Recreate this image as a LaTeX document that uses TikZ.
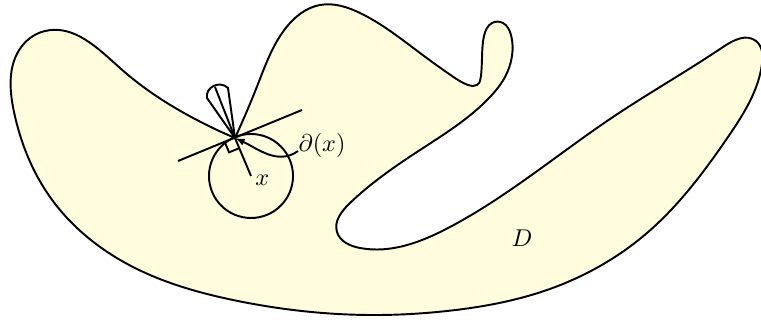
\documentclass[tikz,border=0pt]{standalone}
\definecolor{domainyellow}{RGB}{255,253,222}
\usepackage{amsmath,amssymb}
\usepackage{tikz}
\usetikzlibrary{arrows.meta,positioning,calc,hobby}

\begin{document}
\begin{tikzpicture}[
      x=0.0145cm, y=0.0145cm,
      bdry/.style={draw=black, thick, fill=domainyellow, use Hobby shortcut},
      geo/.style={thick, black},
      ptr/.style={-{Latex[length=4pt]}, thick}
    ]
    \useasboundingbox (0,0) rectangle (761,322);
    % DOMAIN: boundary, cusp at bp
    \coordinate (bp) at (235,184);
    \draw[bdry] (bp) .. (258,238) .. (285,293) .. (320,317) .. (360,309)
      .. (420,269) .. (452,246) .. (468,237) .. (477,237) .. (481,246)
      .. (482,264) .. (484,286) .. (492,299) .. (503,299) .. (511,287)
      .. (512,266) .. (505,245) .. (490,225) .. (420,172) .. (350,119)
      .. (337,90) .. (360,74) .. (450,95) .. (613,205) .. (723,275)
      .. (756,281) .. (762,258) .. (728,185) .. (647,89) .. (547,32)
      .. (447,11) .. (380,7) .. (233,22) .. (133,55) .. (50,125)
      .. (14,210) .. (22,276) .. (45,291) .. (120,254) .. (195,203)
      .. (bp) -- cycle;
    % TANGENT, BALL and NORMAL at bp
    \coordinate (xc) at (251,146);
    \coordinate (ta) at (178,161);
    \coordinate (tb) at (302,212);
    \draw[geo] (ta) -- (tb);
    \draw[geo] (xc) circle[radius=42];
    \draw[geo] (xc) -- (bp);
    % right angle mark
    \coordinate (rn) at ($(bp)!0.16cm!(xc)$);
    \coordinate (rt) at ($(bp)!0.16cm!(ta)$);
    \draw[geo] (rn) -- ($(rn)+(rt)-(bp)$) -- (rt);
    % exterior cone
    \draw[geo] (bp) -- (207,224) .. controls (205,235) and (220,242) .. (228,234) -- cycle;
    \draw[geo] (bp) -- (215,235);
    % labels
    \node[inner sep=0pt] (dlab) at (322,177) {$\partial(x)$};
    \draw[ptr] (dlab.base west) to[out=215, in=-25] (bp);
    \node[inner sep=0pt, anchor=west] (xlab) at (255,142) {$x$};
    \node (dom) at (522,84) {$D$};
  \end{tikzpicture}
\end{document}
